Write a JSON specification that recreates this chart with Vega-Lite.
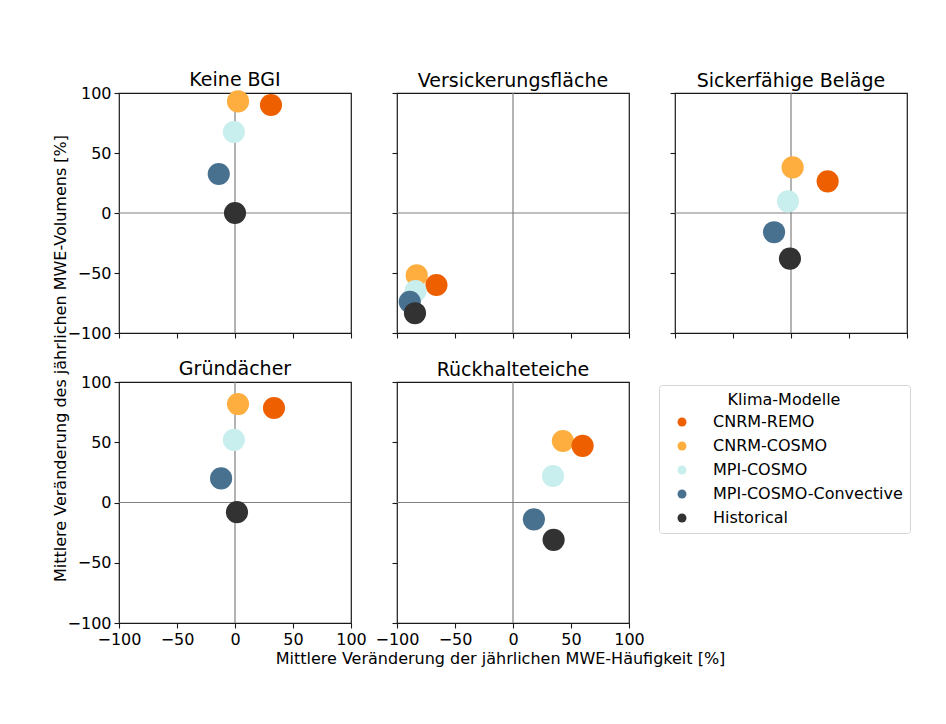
{
  "$schema": "https://vega.github.io/schema/vega-lite/v6.json",
  "background": "white",
  "padding": {"left": 51, "top": 70, "right": 5, "bottom": 5},
  "config": {
    "font": "DejaVu Sans",
    "view": {"stroke": "#1a1a1a", "strokeWidth": 1.2},
    "title": {"fontSize": 19, "fontWeight": "normal", "color": "#000000", "offset": 1},
    "axis": {
      "grid": false,
      "domain": false,
      "tickColor": "#1a1a1a",
      "tickSize": 5,
      "tickWidth": 1.1,
      "labelFontSize": 16,
      "labelColor": "#000000",
      "labelPadding": 3,
      "titleFontSize": 16,
      "titleFontWeight": "normal",
      "titleColor": "#000000",
      "labelFlush": false
    },
    "legend": {
      "labelFontSize": 16,
      "titleFontSize": 16,
      "titleFontWeight": "normal",
      "labelColor": "#000000",
      "titleColor": "#000000",
      "labelLimit": 0
    }
  },
  "bounds": "flush",
  "columns": 3,
  "spacing": {"row": 49, "column": 46},
  "resolve": {"scale": {"color": "shared"}, "legend": {"color": "shared"}},
  "data": {
    "values": [
      {"panel": "Keine BGI", "model": "CNRM-COSMO", "x": 2.6, "y": 93},
      {"panel": "Keine BGI", "model": "CNRM-REMO", "x": 31, "y": 90},
      {"panel": "Keine BGI", "model": "MPI-COSMO", "x": -1, "y": 67.5},
      {"panel": "Keine BGI", "model": "MPI-COSMO-Convective", "x": -14, "y": 32.5},
      {"panel": "Keine BGI", "model": "Historical", "x": 0, "y": 0},
      {"panel": "Versickerungsfläche", "model": "CNRM-COSMO", "x": -83, "y": -52},
      {"panel": "Versickerungsfläche", "model": "CNRM-REMO", "x": -66, "y": -60},
      {"panel": "Versickerungsfläche", "model": "MPI-COSMO", "x": -84, "y": -65},
      {"panel": "Versickerungsfläche", "model": "MPI-COSMO-Convective", "x": -89, "y": -74},
      {"panel": "Versickerungsfläche", "model": "Historical", "x": -84.5, "y": -83.5},
      {"panel": "Sickerfähige Beläge", "model": "CNRM-COSMO", "x": 1.4, "y": 38},
      {"panel": "Sickerfähige Beläge", "model": "CNRM-REMO", "x": 31.6, "y": 26.4},
      {"panel": "Sickerfähige Beläge", "model": "MPI-COSMO", "x": -2.6, "y": 9.7},
      {"panel": "Sickerfähige Beläge", "model": "MPI-COSMO-Convective", "x": -14.6, "y": -16},
      {"panel": "Sickerfähige Beläge", "model": "Historical", "x": -0.9, "y": -38},
      {"panel": "Gründächer", "model": "CNRM-COSMO", "x": 2.6, "y": 81.7},
      {"panel": "Gründächer", "model": "CNRM-REMO", "x": 33.6, "y": 78.4},
      {"panel": "Gründächer", "model": "MPI-COSMO", "x": -1, "y": 52},
      {"panel": "Gründächer", "model": "MPI-COSMO-Convective", "x": -12, "y": 20},
      {"panel": "Gründächer", "model": "Historical", "x": 1.7, "y": -8},
      {"panel": "Rückhalteteiche", "model": "CNRM-COSMO", "x": 43, "y": 51},
      {"panel": "Rückhalteteiche", "model": "CNRM-REMO", "x": 60, "y": 47},
      {"panel": "Rückhalteteiche", "model": "MPI-COSMO", "x": 34.5, "y": 22},
      {"panel": "Rückhalteteiche", "model": "MPI-COSMO-Convective", "x": 18, "y": -14},
      {"panel": "Rückhalteteiche", "model": "Historical", "x": 35, "y": -31}
    ]
  },
  "concat": [
    {
      "width": 232, "height": 240,
      "title": {"text": "Keine BGI", "offset": -5},
      "transform": [{"filter": "datum.panel === 'Keine BGI'"}],
      "layer": [
        {"data": {"values": [{"zero": 0}]}, "mark": {"type": "rule", "color": "#808080", "strokeWidth": 1.2}, "encoding": {"x": {"field": "zero", "type": "quantitative"}}},
        {"data": {"values": [{"zero": 0}]}, "mark": {"type": "rule", "color": "#808080", "strokeWidth": 1.2}, "encoding": {"y": {"field": "zero", "type": "quantitative"}}},
        {
          "mark": {"type": "circle", "size": 490, "opacity": 1},
          "encoding": {
            "x": {"field": "x", "type": "quantitative", "scale": {"domain": [-100, 100], "nice": false, "zero": false}, "axis": {"values": [-100, -50, 0, 50, 100], "labels": false, "title": null}},
            "y": {"field": "y", "type": "quantitative", "scale": {"domain": [-100, 100], "nice": false, "zero": false}, "axis": {"values": [-100, -50, 0, 50, 100], "title": "Mittlere Veränderung des jährlichen MWE-Volumens [%]", "titleY": 265, "titleX": -51}},
            "color": {
              "field": "model", "type": "nominal",
              "scale": {"domain": ["CNRM-REMO", "CNRM-COSMO", "MPI-COSMO", "MPI-COSMO-Convective", "Historical"], "range": ["#ee5f00", "#fdae3f", "#c8efee", "#48718f", "#323232"]},
              "legend": {
                "title": "Klima-Modelle",
                "orient": "none", "legendX": 540, "legendY": 292,
                "titleAnchor": "middle",
                "symbolType": "circle", "symbolSize": 80, "symbolOpacity": 1,
                "symbolOffset": 8, "labelOffset": 23,
                "rowPadding": 8, "titlePadding": 6,
                "padding": 7,
                "fillColor": "white", "strokeColor": "#d4d4d4", "cornerRadius": 3
              }
            }
          }
        }
      ]
    },
    {
      "width": 232, "height": 240,
      "title": "Versickerungsfläche",
      "transform": [{"filter": "datum.panel === 'Versickerungsfläche'"}],
      "layer": [
        {"data": {"values": [{"zero": 0}]}, "mark": {"type": "rule", "color": "#808080", "strokeWidth": 1.2}, "encoding": {"x": {"field": "zero", "type": "quantitative"}}},
        {"data": {"values": [{"zero": 0}]}, "mark": {"type": "rule", "color": "#808080", "strokeWidth": 1.2}, "encoding": {"y": {"field": "zero", "type": "quantitative"}}},
        {
          "mark": {"type": "circle", "size": 490, "opacity": 1},
          "encoding": {
            "x": {"field": "x", "type": "quantitative", "scale": {"domain": [-100, 100], "nice": false, "zero": false}, "axis": {"values": [-100, -50, 0, 50, 100], "labels": false, "title": null}},
            "y": {"field": "y", "type": "quantitative", "scale": {"domain": [-100, 100], "nice": false, "zero": false}, "axis": {"values": [-100, -50, 0, 50, 100], "labels": false, "title": null}},
            "color": {"field": "model", "type": "nominal"}
          }
        }
      ]
    },
    {
      "width": 232, "height": 240,
      "title": "Sickerfähige Beläge",
      "transform": [{"filter": "datum.panel === 'Sickerfähige Beläge'"}],
      "layer": [
        {"data": {"values": [{"zero": 0}]}, "mark": {"type": "rule", "color": "#808080", "strokeWidth": 1.2}, "encoding": {"x": {"field": "zero", "type": "quantitative"}}},
        {"data": {"values": [{"zero": 0}]}, "mark": {"type": "rule", "color": "#808080", "strokeWidth": 1.2}, "encoding": {"y": {"field": "zero", "type": "quantitative"}}},
        {
          "mark": {"type": "circle", "size": 490, "opacity": 1},
          "encoding": {
            "x": {"field": "x", "type": "quantitative", "scale": {"domain": [-100, 100], "nice": false, "zero": false}, "axis": {"values": [-100, -50, 0, 50, 100], "labels": false, "title": null}},
            "y": {"field": "y", "type": "quantitative", "scale": {"domain": [-100, 100], "nice": false, "zero": false}, "axis": {"values": [-100, -50, 0, 50, 100], "labels": false, "title": null}},
            "color": {"field": "model", "type": "nominal"}
          }
        }
      ]
    },
    {
      "width": 232, "height": 241,
      "title": {"text": "Gründächer", "offset": -5},
      "transform": [{"filter": "datum.panel === 'Gründächer'"}],
      "layer": [
        {"data": {"values": [{"zero": 0}]}, "mark": {"type": "rule", "color": "#808080", "strokeWidth": 1.2}, "encoding": {"x": {"field": "zero", "type": "quantitative"}}},
        {"data": {"values": [{"zero": 0}]}, "mark": {"type": "rule", "color": "#808080", "strokeWidth": 1.2}, "encoding": {"y": {"field": "zero", "type": "quantitative"}}},
        {
          "mark": {"type": "circle", "size": 490, "opacity": 1},
          "encoding": {
            "x": {"field": "x", "type": "quantitative", "scale": {"domain": [-100, 100], "nice": false, "zero": false}, "axis": {"values": [-100, -50, 0, 50, 100], "title": null}},
            "y": {"field": "y", "type": "quantitative", "scale": {"domain": [-100, 100], "nice": false, "zero": false}, "axis": {"values": [-100, -50, 0, 50, 100], "title": null}},
            "color": {"field": "model", "type": "nominal"}
          }
        }
      ]
    },
    {
      "width": 232, "height": 241,
      "title": "Rückhalteteiche",
      "transform": [{"filter": "datum.panel === 'Rückhalteteiche'"}],
      "layer": [
        {"data": {"values": [{"zero": 0}]}, "mark": {"type": "rule", "color": "#808080", "strokeWidth": 1.2}, "encoding": {"x": {"field": "zero", "type": "quantitative"}}},
        {"data": {"values": [{"zero": 0}]}, "mark": {"type": "rule", "color": "#808080", "strokeWidth": 1.2}, "encoding": {"y": {"field": "zero", "type": "quantitative"}}},
        {
          "mark": {"type": "circle", "size": 490, "opacity": 1},
          "encoding": {
            "x": {"field": "x", "type": "quantitative", "scale": {"domain": [-100, 100], "nice": false, "zero": false}, "axis": {"values": [-100, -50, 0, 50, 100], "title": "Mittlere Veränderung der jährlichen MWE-Häufigkeit [%]", "titleX": 103, "titlePadding": 3}},
            "y": {"field": "y", "type": "quantitative", "scale": {"domain": [-100, 100], "nice": false, "zero": false}, "axis": {"values": [-100, -50, 0, 50, 100], "labels": false, "title": null}},
            "color": {"field": "model", "type": "nominal"}
          }
        }
      ]
    }
  ]
}
